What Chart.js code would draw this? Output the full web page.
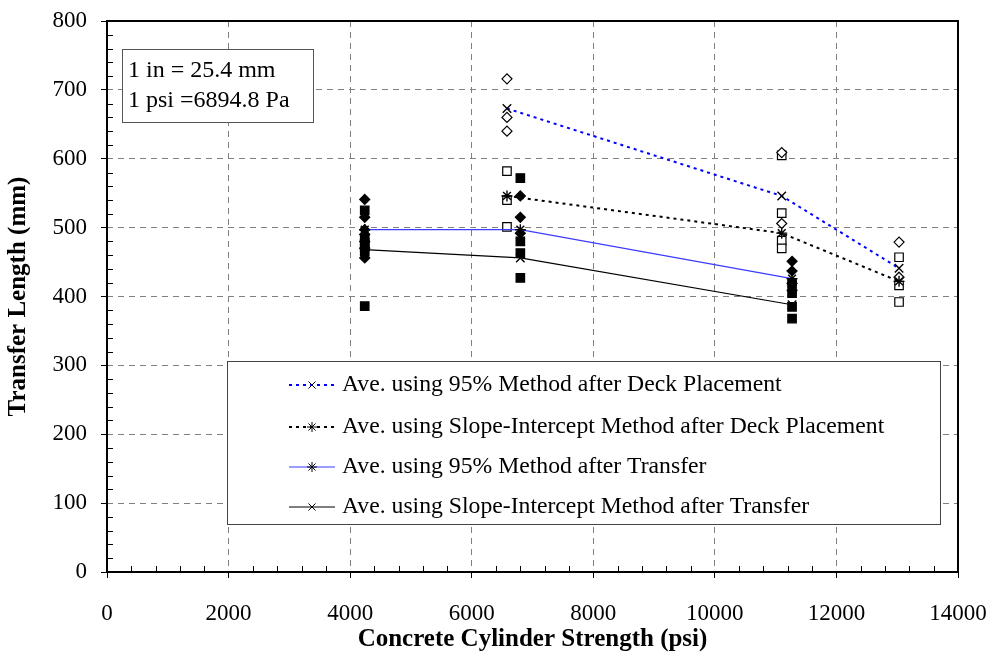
<!DOCTYPE html>
<html>
<head>
<meta charset="utf-8">
<script src="https://cdn.jsdelivr.net/npm/chart.js@4.4.1/dist/chart.umd.min.js"></script>
<style>
  html, body { margin: 0; padding: 0; background: #fff; }
  #wrap { width: 992px; height: 652px; }
</style>
</head>
<body>
<div id="wrap"><canvas id="c" width="992" height="652"></canvas></div>
<script>
// averages (lines)
var xDeck = [6580, 11100, 13030];
var xTransfer = [4240, 6800, 11270];
var avg95Deck = [673, 546, 441];
var avgSIDeck = [546, 492, 422];
var avg95Transfer = [497, 497, 426];
var avgSITransfer = [468, 456, 388];

// individual measurements
var pts95DeckX = [6580, 6580, 6580, 11100, 11100, 13030, 13030];
var pts95DeckY = [716, 660, 640, 609, 506, 479, 428];
var ptsSIDeckX = [6580, 6580, 6580, 11100, 11100, 11100, 11100, 13030, 13030, 13030];
var ptsSIDeckY = [582, 540, 501, 605, 521, 481, 470, 457, 416, 392];
var pts95TransferX = [4240, 4240, 4240, 4240, 4240, 4240, 4240, 6800, 6800, 6800, 11270, 11270, 11270, 11270];
var pts95TransferY = [541, 515, 497, 490, 480, 470, 456, 546, 515, 492, 451, 437, 419, 409];
var ptsSITransferX = [4240, 4240, 4240, 4240, 4240, 4240, 6800, 6800, 6800, 6800, 11270, 11270, 11270, 11270];
var ptsSITransferY = [525, 485, 478, 472, 465, 386, 572, 480, 463, 427, 419, 405, 385, 368];

var legendLabels = [
    'Ave. using 95% Method after Deck Placement',
    'Ave. using Slope-Intercept Method after Deck Placement',
    'Ave. using 95% Method after Transfer',
    'Ave. using Slope-Intercept Method after Transfer'
];
var noteLines = ['1 in = 25.4 mm', '1 psi =6894.8 Pa'];

var SERIF = '"Liberation Serif", "Times New Roman", serif';

function pairs(xs, ys) {
    return xs.map(function (x, i) { return { x: x, y: ys[i] }; });
}

function lineSet(label, xs, ys, color, dash, marker, r) {
    return {
        label: label,
        data: pairs(xs, ys),
        showLine: true,
        borderColor: color,
        borderWidth: dash.length ? 2 : 1.2,
        borderDash: dash,
        pointStyle: marker,
        pointRadius: r,
        pointBorderColor: '#000',
        pointBackgroundColor: '#000',
        pointBorderWidth: 1.4,
        isAverage: true
    };
}

function pointSet(xs, ys, marker, filled, r) {
    return {
        data: pairs(xs, ys),
        showLine: false,
        pointStyle: marker,
        pointRadius: r,
        pointBorderColor: '#000',
        pointBackgroundColor: filled ? '#000' : '#fff',
        pointBorderWidth: 1.2
    };
}

var datasets = [
    lineSet(legendLabels[0], xDeck, avg95Deck, '#0000ff', [3, 4], 'crossRot', 6),
    lineSet(legendLabels[1], xDeck, avgSIDeck, '#000', [3, 4], 'star', 5.5),
    lineSet(legendLabels[2], xTransfer, avg95Transfer, '#3c3cff', [], 'star', 5.5),
    lineSet(legendLabels[3], xTransfer, avgSITransfer, '#000', [], 'crossRot', 6),
    pointSet(pts95DeckX, pts95DeckY, 'rectRot', false, 5),
    pointSet(ptsSIDeckX, ptsSIDeckY, 'rect', false, 6),
    pointSet(pts95TransferX, pts95TransferY, 'rectRot', true, 5),
    pointSet(ptsSITransferX, ptsSITransferY, 'rect', true, 6)
];

// minor ticks, frame, note box and legend
var extras = {
    id: 'extras',
    afterDraw: function (chart) {
        var ctx = chart.ctx;
        var a = chart.chartArea;
        var xs = chart.scales.x, ys = chart.scales.y;
        var v;

        ctx.save();
        ctx.strokeStyle = '#000';
        ctx.lineWidth = 1;
        ctx.beginPath();
        for (v = 0; v <= 14000; v += 400) {
            if (v % 2000 === 0) continue;
            var px = Math.round(xs.getPixelForValue(v)) + 0.5;
            ctx.moveTo(px, a.bottom);
            ctx.lineTo(px, a.bottom - 6);
        }
        for (v = 0; v <= 800; v += 20) {
            if (v % 100 === 0) continue;
            var py = Math.round(ys.getPixelForValue(v)) + 0.5;
            ctx.moveTo(a.left, py);
            ctx.lineTo(a.left + 6, py);
        }
        ctx.stroke();

        ctx.lineWidth = 2;
        ctx.strokeRect(a.left, a.top, a.right - a.left, a.bottom - a.top);

        // unit note
        ctx.fillStyle = '#fff';
        ctx.fillRect(122, 49, 191, 73);
        ctx.strokeStyle = '#555';
        ctx.lineWidth = 1;
        ctx.strokeRect(122.5, 49.5, 191, 73);
        ctx.fillStyle = '#000';
        ctx.font = '24px ' + SERIF;
        ctx.textBaseline = 'middle';
        ctx.textAlign = 'left';
        ctx.fillText(noteLines[0], 128, 71);
        ctx.fillText(noteLines[1], 128, 101);

        // legend
        ctx.fillStyle = '#fff';
        ctx.fillRect(227, 361, 713, 163);
        ctx.strokeStyle = '#444';
        ctx.strokeRect(227.5, 361.5, 713, 163);
        var rows = [385, 427, 467, 507];
        chart.data.datasets.forEach(function (ds, i) {
            if (!ds.isAverage) return;
            var y = rows[i];
            ctx.save();
            ctx.strokeStyle = ds.borderColor;
            ctx.lineWidth = ds.borderWidth;
            ctx.setLineDash(ds.borderDash);
            ctx.beginPath();
            ctx.moveTo(289, y);
            ctx.lineTo(335, y);
            ctx.stroke();
            ctx.restore();
            ctx.strokeStyle = '#000';
            ctx.fillStyle = '#000';
            Chart.helpers.drawPoint(ctx, { pointStyle: ds.pointStyle, radius: 5, borderWidth: 1.2 }, 312, y);
            ctx.fillStyle = '#000';
            ctx.font = '23.7px ' + SERIF;
            ctx.textBaseline = 'middle';
            ctx.fillText(ds.label, 342, y);
        });
        ctx.restore();
    }
};

var plain = function (v) { return String(v); };

new Chart(document.getElementById('c').getContext('2d'), {
    type: 'scatter',
    data: { datasets: datasets },
    options: {
        responsive: false,
        animation: false,
        layout: { padding: { top: 21, right: 34, left: 0, bottom: 0 } },
        plugins: { legend: { display: false }, tooltip: { enabled: false } },
        scales: {
            x: {
                type: 'linear',
                min: 0,
                max: 14000,
                afterFit: function (s) {
                    s.height = 80;
                    s.paddingLeft = 0;
                    s.paddingRight = 0;
                },
                ticks: {
                    stepSize: 2000,
                    color: '#000',
                    padding: 22,
                    maxRotation: 0,
                    callback: plain,
                    font: { family: SERIF, size: 23 }
                },
                grid: { color: '#808080', tickColor: '#000', tickLength: 6, lineWidth: 1 },
                border: { display: false, dash: [6, 5] },
                title: {
                    display: true,
                    text: 'Concrete Cylinder Strength (psi)',
                    color: '#000',
                    padding: { top: 0, bottom: 0 },
                    font: { family: SERIF, size: 25, weight: 'bold', lineHeight: 1 }
                }
            },
            y: {
                type: 'linear',
                min: 0,
                max: 800,
                afterFit: function (s) {
                    s.width = 107;
                    s.paddingTop = 0;
                    s.paddingBottom = 0;
                },
                ticks: {
                    stepSize: 100,
                    color: '#000',
                    padding: 14,
                    callback: plain,
                    font: { family: SERIF, size: 23 }
                },
                grid: { color: '#808080', tickColor: '#000', tickLength: 6, lineWidth: 1 },
                border: { display: false, dash: [6, 5] },
                title: {
                    display: true,
                    text: 'Transfer Length (mm)',
                    color: '#000',
                    padding: { top: 6, bottom: 0 },
                    font: { family: SERIF, size: 25, weight: 'bold', lineHeight: 1 }
                }
            }
        }
    },
    plugins: [extras]
});
</script>
</body>
</html>
